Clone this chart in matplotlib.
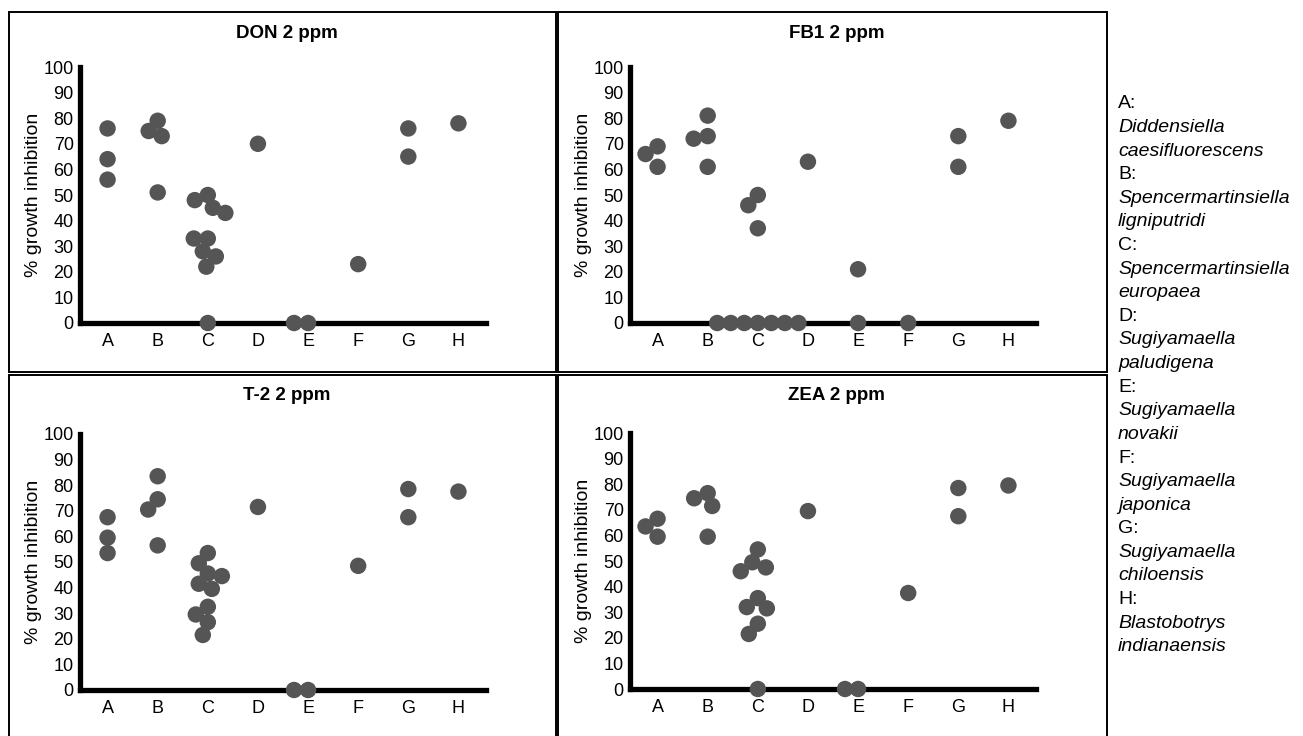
import matplotlib
matplotlib.use("Agg")
import matplotlib.pyplot as plt
from matplotlib.patches import Rectangle
import numpy as np

plt.rcParams["font.family"] = ["Liberation Sans", "DejaVu Sans"]

W, H = 1303, 736

categories = ["A", "B", "C", "D", "E", "F", "G", "H"]

# ─────────── data: category, value, horizontal jitter (category units) ───────────
don_cat = list("AAA" "BBBB" "CCCCCCCCCC" "D" "EE" "F" "GG" "H")
don_val = [76, 64, 56,
           75, 79, 73, 51,
           48, 50, 45, 43, 33, 33, 28, 26, 22, 0,
           70,
           0, 0,
           23,
           76, 65,
           78]
don_dx = [0, 0, 0,
          -0.18, 0, 0.08, 0,
          -0.26, 0, 0.10, 0.35, -0.28, 0, -0.10, 0.16, -0.03, 0,
          0,
          -0.28, 0,
          0,
          0, 0,
          0]

fb1_cat = list("AAA" "BBBB" "CCCCCCCCCC" "D" "EE" "F" "GG" "H")
fb1_val = [66, 69, 61,
           72, 81, 73, 61,
           46, 50, 37, 0, 0, 0, 0, 0, 0, 0,
           63,
           21, 0,
           0,
           73, 61,
           79]
fb1_dx = [-0.24, 0, 0,
          -0.28, 0, 0, 0,
          -0.19, 0, 0, -0.81, -0.54, -0.27, 0, 0.27, 0.54, 0.81,
          0,
          0, 0,
          0,
          0, 0,
          0]

t2_cat = list("AAA" "BBBB" "CCCCCCCCCC" "D" "EE" "F" "GG" "H")
t2_val = [67.5, 59.5, 53.5,
          70.5, 83.5, 74.5, 56.5,
          49.5, 53.5, 45.5, 44.5, 41.5, 39.5, 32.5, 29.5, 26.5, 21.5,
          71.5,
          0, 0,
          48.5,
          78.5, 67.5,
          77.5]
t2_dx = [0, 0, 0,
         -0.19, 0, 0, 0,
         -0.18, 0, 0, 0.28, -0.18, 0.08, 0, -0.24, 0, -0.10,
         0,
         -0.28, 0,
         0,
         0, 0,
         0]

zea_cat = list("AAA" "BBBB" "CCCCCCCCCC" "D" "EE" "F" "GG" "H")
zea_val = [63.5, 66.5, 59.5,
           74.5, 76.5, 71.5, 59.5,
           46, 49.5, 54.5, 47.5, 32, 35.5, 31.5, 25.5, 21.5, 0,
           69.5,
           0, 0,
           37.5,
           78.5, 67.5,
           79.5]
zea_dx = [-0.24, 0, 0,
          -0.27, 0, 0.09, 0,
          -0.34, -0.11, 0, 0.16, -0.22, 0, 0.18, 0, -0.18, 0,
          0,
          -0.26, 0,
          0,
          0, 0,
          0]

legend_lines = [
    ("A:", False), ("Diddensiella", True), ("caesifluorescens", True),
    ("B:", False), ("Spencermartinsiella", True), ("ligniputridi", True),
    ("C:", False), ("Spencermartinsiella", True), ("europaea", True),
    ("D:", False), ("Sugiyamaella", True), ("paludigena", True),
    ("E:", False), ("Sugiyamaella", True), ("novakii", True),
    ("F:", False), ("Sugiyamaella", True), ("japonica", True),
    ("G:", False), ("Sugiyamaella", True), ("chiloensis", True),
    ("H:", False), ("Blastobotrys", True), ("indianaensis", True),
]

# title, data, axes origin (px: y-axis x, zero line y), panel box (px)
panels = [
    ("DON 2 ppm", don_cat, don_val, don_dx, (80, 323), (9, 12, 556, 372)),
    ("FB1 2 ppm", fb1_cat, fb1_val, fb1_dx, (630, 323), (558, 12, 1107, 372)),
    ("T-2 2 ppm", t2_cat, t2_val, t2_dx, (80, 690), (9, 375, 556, 740)),
    ("ZEA 2 ppm", zea_cat, zea_val, zea_dx, (630, 689), (558, 375, 1107, 740)),
]


def fx(px):
    return px / W


def fy(py):
    return 1 - py / H


fig = plt.figure(figsize=(W / 100, H / 100), dpi=100)

for title, cats, vals, dx, (ax0, ay0), (bx0, by0, bx1, by1) in panels:
    # panel frame
    fig.patches.append(Rectangle((fx(bx0), fy(by1)), fx(bx1 - bx0), (by1 - by0) / H,
                                 transform=fig.transFigure, fill=False,
                                 edgecolor="black", linewidth=1.4))
    fig.text(fx((bx0 + bx1) / 2 + 4), fy(by0 + 21), title, ha="center", va="center",
             fontsize=13.5, fontweight="bold")

    ax = fig.add_axes([fx(ax0), fy(ay0), fx(406), 256 / H])
    xs = np.array([categories.index(c) + 1 for c in cats]) + np.array(dx)
    ax.scatter(xs, vals, s=140, color="#555555", edgecolors="none",
               zorder=3, clip_on=False)
    ax.set_xlim(0.45, 8.55)
    ax.set_ylim(0, 100)
    ax.set_yticks(range(0, 101, 10))
    ax.set_xticks(np.arange(1, 9))
    ax.set_xticklabels(categories)
    ax.tick_params(length=0, labelsize=13)
    ax.tick_params(axis="y", pad=4.5)
    ax.tick_params(axis="x", pad=7)
    ax.set_ylabel("% growth inhibition", fontsize=14, labelpad=1)
    for s in ("top", "right"):
        ax.spines[s].set_visible(False)
    for s in ("left", "bottom"):
        ax.spines[s].set_linewidth(3.8)
        ax.spines[s].set_color("black")
    ax.patch.set_alpha(0)

# species key
for i, (txt, it) in enumerate(legend_lines):
    fig.text(fx(1118), fy(104 + i * 23.6), txt, ha="left", va="center",
             fontsize=14, style="italic" if it else "normal")

fig.savefig("out.png", dpi=100, facecolor="white")
